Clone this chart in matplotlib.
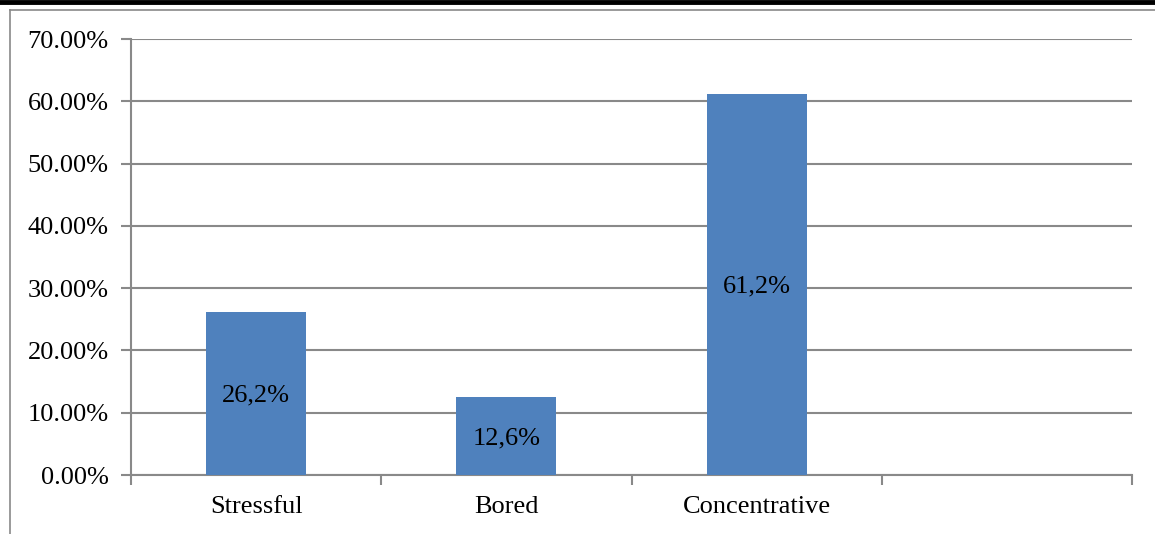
import matplotlib.pyplot as plt
from matplotlib.lines import Line2D
from matplotlib.ticker import FuncFormatter

categories = ["Stressful", "Bored", "Concentrative", ""]
values = [26.2, 12.6, 61.2, None]
bar_labels = ["26,2%", "12,6%", "61,2%"]
y_ticks = [0, 10, 20, 30, 40, 50, 60, 70]

GRAY = "#898989"
BLUE = "#4F81BD"

plt.rcParams["font.family"] = ["Liberation Serif", "DejaVu Serif"]
plt.rcParams["font.size"] = 19

fig = plt.figure(figsize=(11.55, 5.34), dpi=100)
W, H = 1155, 534
ax = fig.add_axes([131 / W, (H - 475) / H, (1132 - 131) / W, (475 - 39) / H])

xs = list(range(len(categories)))
for x, v, lab in zip(xs, values, bar_labels):
    ax.bar(x, v, width=0.4, color=BLUE, zorder=3)
    ax.text(x, v / 2, lab, ha="center", va="center_baseline", fontsize=19, zorder=4)

ax.set_xlim(-0.5, len(categories) - 0.5)
ax.set_ylim(0, 70)
ax.set_yticks(y_ticks)
ax.yaxis.set_major_formatter(FuncFormatter(lambda v, p: f"{v:.2f}%"))
ax.yaxis.grid(True, color=GRAY, linewidth=1.5, zorder=0)

ax.set_xticks(xs)
ax.set_xticklabels(categories)
ax.set_xticks([x - 0.5 for x in xs] + [len(categories) - 0.5], minor=True)
ax.tick_params(axis="x", which="major", length=0, pad=15)
ax.tick_params(axis="x", which="minor", length=7, width=1.5, color=GRAY, direction="out")
ax.tick_params(axis="y", length=7, width=1.5, color=GRAY, direction="out", pad=9)

for s in ["top", "right"]:
    ax.spines[s].set_visible(False)
for s in ["left", "bottom"]:
    ax.spines[s].set_color(GRAY)
    ax.spines[s].set_linewidth(1.5)

# page frame around the chart
fig.add_artist(Line2D([0, 1], [1 - 1.5 / H, 1 - 1.5 / H], color="black", linewidth=3.5))
fig.add_artist(Line2D([10 / W, 1], [1 - 10 / H, 1 - 10 / H], color=GRAY, linewidth=1.2))
fig.add_artist(Line2D([10 / W, 10 / W], [0, 1 - 10 / H], color=GRAY, linewidth=1.2))

fig.savefig("out.png", dpi=100)
